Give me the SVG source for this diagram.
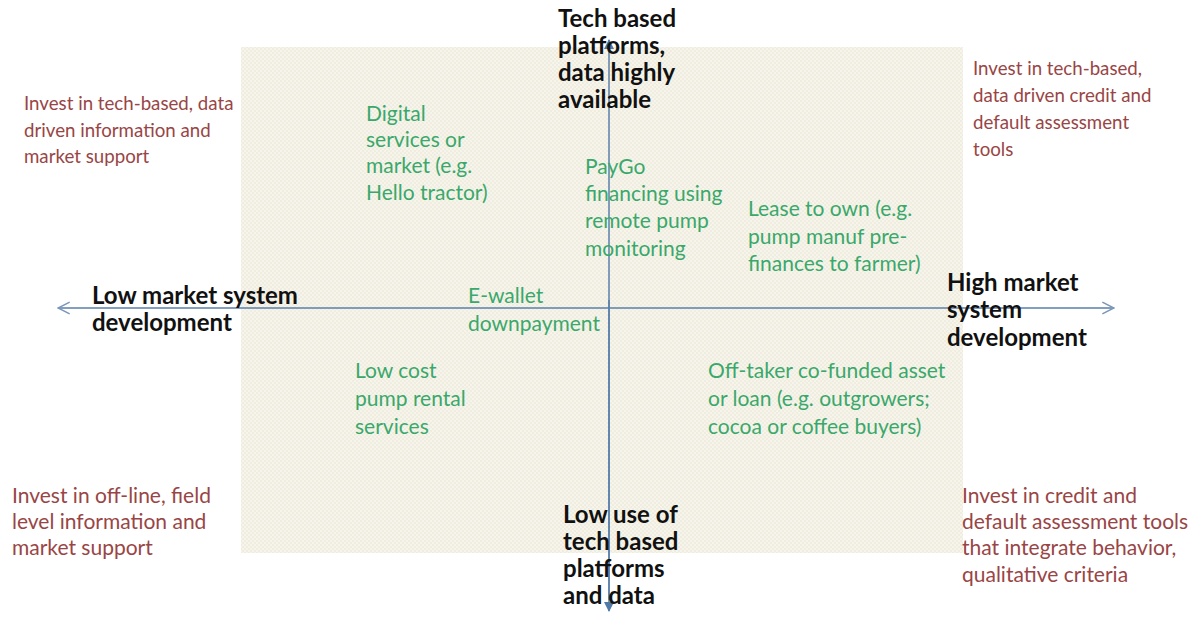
<svg xmlns="http://www.w3.org/2000/svg" width="1192" height="617" viewBox="0 0 1192 617">
<defs>
<pattern id="dots" width="4" height="4" patternUnits="userSpaceOnUse">
<rect width="4" height="4" fill="#f7f5eb"/>
<circle cx="1" cy="1" r="0.8" fill="#e6e3d2"/>
<circle cx="3" cy="3" r="0.8" fill="#e6e3d2"/>
</pattern>
<marker id="tri" viewBox="0 0 10 10" refX="9" refY="5" markerWidth="10" markerHeight="10" markerUnits="userSpaceOnUse" orient="auto">
<path d="M0,0 L10,5 L0,10 z" fill="#4f79a8"/>
</marker>
<marker id="chev" viewBox="0 0 12 12" refX="11" refY="6" markerWidth="14" markerHeight="14" markerUnits="userSpaceOnUse" orient="auto-start-reverse">
<path d="M1,1 L11,6 L1,11" fill="none" stroke="#7a96b8" stroke-width="1.3"/>
</marker>
</defs>
<style>
text{font-family:Lato,"Open Sans","Liberation Sans",sans-serif}
.red text{fill:#994545;font-size:18.7px}
.red2 text{fill:#994545;font-size:21px}
.grn text{fill:#3aa86b;font-size:21px}
.blk text{fill:#111;font-weight:bold;font-size:24px}
.ax{stroke:#5a7fab;stroke-width:1.5;fill:none}
</style>
<rect id="background" x="241" y="47" width="722" height="506" fill="url(#dots)"/>
<g id="connectors">
<line class="ax" x1="58" y1="308" x2="1114" y2="308" stroke="#7a96b8" marker-start="url(#chev)" marker-end="url(#chev)"/>
<line class="ax" x1="609" y1="600" x2="609" y2="40" marker-end="url(#tri)"/>
<line class="ax" x1="609" y1="300" x2="609" y2="611" marker-end="url(#tri)"/>
</g>
<g id="q-top-left" class="red"><text><tspan x="24" y="110">Invest in tech-based, data</tspan><tspan x="24" y="137">driven information and</tspan><tspan x="24" y="163">market support</tspan></text></g>
<g id="q-top-right" class="red"><text><tspan x="973" y="75">Invest in tech-based,</tspan><tspan x="973" y="102">data driven credit and</tspan><tspan x="973" y="129">default assessment</tspan><tspan x="973" y="156">tools</tspan></text></g>
<g id="q-bottom-left" class="red2"><text><tspan x="12" y="503">Invest in off-line, field</tspan><tspan x="12" y="529">level information and</tspan><tspan x="12" y="555">market support</tspan></text></g>
<g id="q-bottom-right" class="red2"><text><tspan x="962" y="503">Invest in credit and</tspan><tspan x="962" y="529">default assessment tools</tspan><tspan x="962" y="555">that integrate behavior,</tspan><tspan x="962" y="582">qualitative criteria</tspan></text></g>
<g id="digital" class="grn"><text><tspan x="366" y="121">Digital</tspan><tspan x="366" y="147">services or</tspan><tspan x="366" y="173">market (e.g.</tspan><tspan x="366" y="200">Hello tractor)</tspan></text></g>
<g id="paygo" class="grn"><text><tspan x="585" y="174">PayGo</tspan><tspan x="585" y="201">financing using</tspan><tspan x="585" y="228">remote pump</tspan><tspan x="585" y="256">monitoring</tspan></text></g>
<g id="lease" class="grn"><text><tspan x="748" y="216">Lease to own (e.g.</tspan><tspan x="748" y="244">pump manuf pre-</tspan><tspan x="748" y="271">finances to farmer)</tspan></text></g>
<g id="ewallet" class="grn"><text><tspan x="468" y="303">E-wallet</tspan><tspan x="468" y="331">downpayment</tspan></text></g>
<g id="lowcost" class="grn"><text><tspan x="355" y="378">Low cost</tspan><tspan x="355" y="406">pump rental</tspan><tspan x="355" y="434">services</tspan></text></g>
<g id="offtaker" class="grn"><text><tspan x="708" y="378">Off-taker co-funded asset</tspan><tspan x="708" y="406">or loan (e.g. outgrowers;</tspan><tspan x="708" y="434">cocoa or coffee buyers)</tspan></text></g>
<g id="axis-top" class="blk"><text><tspan x="558" y="27">Tech based</tspan><tspan x="558" y="54">platforms,</tspan><tspan x="558" y="81">data highly</tspan><tspan x="558" y="108">available</tspan></text></g>
<g id="axis-left" class="blk"><text><tspan x="92" y="304">Low market system</tspan><tspan x="92" y="331">development</tspan></text></g>
<g id="axis-right" class="blk"><text><tspan x="947" y="291">High market</tspan><tspan x="947" y="318">system</tspan><tspan x="947" y="346">development</tspan></text></g>
<g id="axis-bottom" class="blk"><text><tspan x="563" y="523">Low use of</tspan><tspan x="563" y="550">tech based</tspan><tspan x="563" y="577">platforms</tspan><tspan x="563" y="604">and data</tspan></text></g>
</svg>
